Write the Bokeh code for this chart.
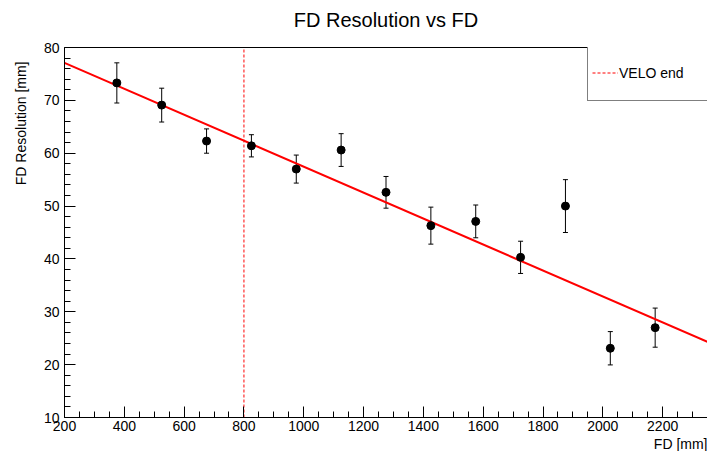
from bokeh.plotting import figure
from bokeh.models import (ColumnDataSource, Whisker, TeeHead, Title, Legend, LinearAxis,
                          FixedTicker, LegendItem, SingleIntervalTicker, Range1d)
from bokeh.embed import file_html
from bokeh.resources import INLINE

# ---- data ----
fd_mm = [375, 525, 675, 825, 975, 1125, 1275, 1425, 1575, 1725, 1875, 2025, 2175]
fd_res = [73.3, 69.1, 62.3, 61.4, 57.0, 60.6, 52.6, 46.3, 47.1, 40.3, 50.0, 23.1, 27.0]
fd_err = [3.8, 3.2, 2.3, 2.1, 2.65, 3.1, 3.0, 3.5, 3.1, 3.05, 5.0, 3.15, 3.7]

fit_x = [200, 2350]
fit_y = [77.1, 24.3]

velo_end = 800
x_lim = [200, 2350]
y_lim = [10, 80]

FONT = "Liberation Sans"

src = ColumnDataSource(dict(
    x=fd_mm, y=fd_res,
    lo=[v - e for v, e in zip(fd_res, fd_err)],
    hi=[v + e for v, e in zip(fd_res, fd_err)],
))

p = figure(width=707, height=451, output_backend="svg", toolbar_location=None,
           x_range=Range1d(*x_lim), y_range=Range1d(*y_lim),
           min_border_left=64, min_border_right=0, min_border_top=47, min_border_bottom=33,
           background_fill_color="white", border_fill_color="white")
p.title = None
p.outline_line_color = None
p.xgrid.visible = False
p.ygrid.visible = False

# axes
p.xaxis.ticker = SingleIntervalTicker(interval=200, num_minor_ticks=4)
p.yaxis.ticker = SingleIntervalTicker(interval=10, num_minor_ticks=5)
for ax in (p.xaxis[0], p.yaxis[0]):
    ax.major_tick_in = 11
    ax.major_tick_out = 0
    ax.minor_tick_in = 6
    ax.minor_tick_out = 0
    ax.axis_line_color = "black"
    ax.major_tick_line_color = "black"
    ax.minor_tick_line_color = "black"
    ax.major_label_text_font = FONT
    ax.major_label_text_font_size = "14px"
    ax.major_label_text_color = "black"
p.xaxis.major_label_standoff = 3
p.yaxis.major_label_standoff = 5

# top frame line carrying the chart title
top = LinearAxis(ticker=FixedTicker(ticks=[]), axis_label="FD Resolution vs FD",
                 axis_label_standoff=17, axis_label_text_font=FONT,
                 axis_label_text_font_size="20px", axis_label_text_font_style="normal",
                 axis_label_text_color="black", axis_line_color="black",
                 major_tick_in=0, major_tick_out=0, minor_tick_in=0, minor_tick_out=0)
p.add_layout(top, "above")

# axis titles (right/top aligned, as in the reference)
p.add_layout(Title(text="FD Resolution [mm]", align="right", vertical_align="top",
                   standoff=20, offset=14,
                   text_font=FONT, text_font_size="14px", text_font_style="normal",
                   text_color="black"), "left")
p.add_layout(Title(text="FD [mm]", align="right", standoff=0,
                   text_font=FONT, text_font_size="14px", text_font_style="normal",
                   text_color="black"), "below")

# VELO end line
velo = p.line([velo_end, velo_end], y_lim, line_color="#ff0000", line_width=1, line_dash="3 2")

# fit line
p.line(fit_x, fit_y, line_color="#ff0000", line_width=2)

# error bars and points
p.add_layout(Whisker(source=src, base="x", upper="hi", lower="lo",
                     line_color="black", line_width=1,
                     upper_head=TeeHead(size=5, line_color="black", line_width=1),
                     lower_head=TeeHead(size=5, line_color="black", line_width=1)))
p.scatter("x", "y", source=src, size=8, color="black")

# legend
leg = Legend(items=[LegendItem(label="VELO end", renderers=[velo])],
             location=(523, 316), padding=4, margin=0, spacing=0,
             glyph_width=26, glyph_height=47, label_height=47, label_width=90,
             label_standoff=1, label_text_font=FONT, label_text_font_size="14px",
             label_text_color="black", border_line_color="black", border_line_width=1,
             background_fill_color="white", background_fill_alpha=1.0)
p.add_layout(leg)

open("out.html", "w").write(file_html(p, INLINE))
